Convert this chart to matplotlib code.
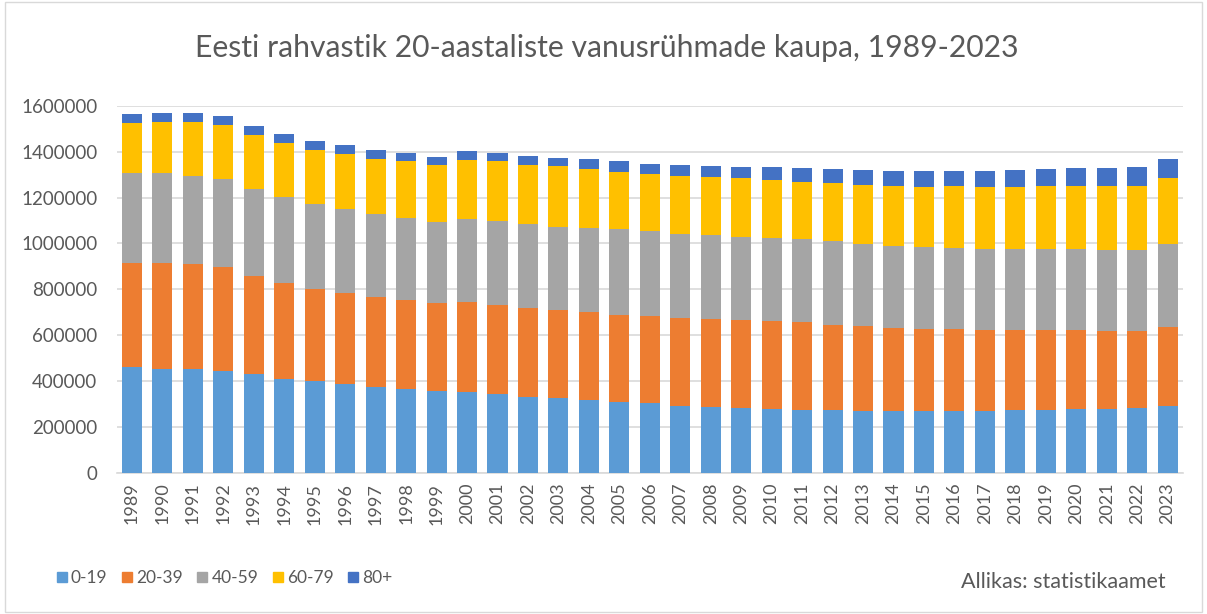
import matplotlib
matplotlib.use("Agg")
import matplotlib.pyplot as plt
from matplotlib.lines import Line2D
from matplotlib.patches import Rectangle
import numpy as np

years = [str(y) for y in range(1989, 2024)]
age_groups = ["0-19", "20-39", "40-59", "60-79", "80+"]

g0_19 = [460.5, 454.4, 454.4, 444.4, 431.3, 410.9, 400.8, 386.5, 376.0, 366.0,
         357.3, 352.9, 342.9, 332.4, 328.1, 318.0, 308.0, 303.7, 293.2, 287.6,
         283.2, 277.5, 273.2, 273.2, 268.8, 268.8, 268.8, 268.8, 268.8, 273.2,
         273.2, 277.5, 277.5, 283.2, 293.2]
g20_39 = [455.5, 461.6, 457.6, 453.1, 427.0, 418.3, 402.2, 397.8, 389.5, 389.0,
          383.4, 393.5, 387.8, 387.8, 382.1, 383.5, 381.7, 381.7, 382.1, 383.4,
          383.4, 383.4, 383.4, 372.9, 373.0, 363.0, 358.6, 358.6, 352.9, 348.5,
          348.5, 344.2, 339.9, 334.2, 342.9]
g40_59 = [390.0, 390.0, 383.3, 382.1, 377.8, 372.0, 369.0, 367.3, 361.7, 357.4,
          352.9, 361.6, 367.3, 363.4, 362.9, 367.3, 373.4, 367.7, 367.3, 367.3,
          361.7, 363.0, 361.6, 363.4, 357.3, 357.2, 357.3, 352.9, 352.9, 352.9,
          352.9, 352.9, 352.9, 352.9, 363.0]
g60_79 = [219.0, 224.6, 235.3, 236.6, 235.3, 236.6, 235.3, 237.0, 240.8, 245.6,
          249.7, 255.7, 260.0, 259.7, 264.5, 254.4, 249.7, 249.6, 251.4, 250.1,
          255.7, 254.0, 249.7, 254.0, 254.4, 260.2, 260.1, 268.9, 270.2, 270.2,
          274.6, 274.6, 278.9, 278.9, 284.9]
g80 = [39.0, 37.9, 37.9, 39.2, 39.2, 39.2, 39.2, 39.2, 39.3, 35.0,
       34.7, 39.3, 35.0, 39.2, 34.9, 44.9, 45.2, 44.9, 49.3, 49.2,
       49.2, 55.3, 59.7, 59.7, 65.4, 65.3, 69.7, 65.3, 69.7, 74.1,
       74.0, 78.4, 78.4, 84.0, 84.1]

series = [g0_19, g20_39, g40_59, g60_79, g80]
colors = ["#5B9BD5", "#ED7D31", "#A5A5A5", "#FFC000", "#4472C4"]
yticks = [0, 200000, 400000, 600000, 800000, 1000000, 1200000, 1400000, 1600000]

plt.rcParams['font.family'] = ['Lato', 'DejaVu Sans']
txt = "#595959"

fig = plt.figure(figsize=(12.07, 6.14), dpi=100)
ax = fig.add_axes([0.0967, 0.2296, 0.8833, 0.5983])

x = np.arange(len(years))
bottom = np.zeros(len(years))
for vals, col, lab in zip(series, colors, age_groups):
    v = np.array(vals) * 1000
    ax.bar(x, v, bottom=bottom, width=0.66, color=col, label=lab, zorder=3)
    bottom += v

ax.set_xlim(-0.5, len(years) - 0.5)
ax.set_ylim(0, 1600000)
ax.set_yticks(yticks)
ax.set_yticklabels([str(t) for t in yticks], fontsize=13.5, color=txt)
ax.set_xticks(x)
ax.set_xticklabels(years, rotation=90, fontsize=13, color=txt)
ax.tick_params(axis='both', length=0)
ax.tick_params(axis='y', pad=14)
ax.tick_params(axis='x', pad=7)
ax.grid(axis='y', color="#d9d9d9", linewidth=1.2, zorder=0)
for s in ["top", "right", "left"]:
    ax.spines[s].set_visible(False)
ax.spines["bottom"].set_color("#d9d9d9")
ax.spines["bottom"].set_linewidth(1.2)

fig.text(0.503, 0.922, "Eesti rahvastik 20-aastaliste vanusrühmade kaupa, 1989-2023",
         ha="center", va="center", fontsize=21.7, color=txt)

handles = [Line2D([0], [0], marker='s', linestyle='none', markersize=7.5,
                  markerfacecolor=c, markeredgecolor=c) for c in colors]
fig.legend(handles, age_groups, loc="center left", bbox_to_anchor=(0.047, 0.0586),
           ncol=5, frameon=False, fontsize=12.5, handlelength=0.55,
           handletextpad=0.25, columnspacing=0.85, labelcolor=txt,
           borderpad=0, borderaxespad=0)

fig.text(0.966, 0.052, "Allikas: statistikaamet", ha="right", va="center",
         fontsize=15.5, color=txt)

fig.patches.append(Rectangle((0.004, 0.004), 0.992, 0.992, transform=fig.transFigure,
                             fill=False, edgecolor="#d9d9d9", linewidth=1))

fig.savefig("out.png", dpi=100, facecolor="white")
